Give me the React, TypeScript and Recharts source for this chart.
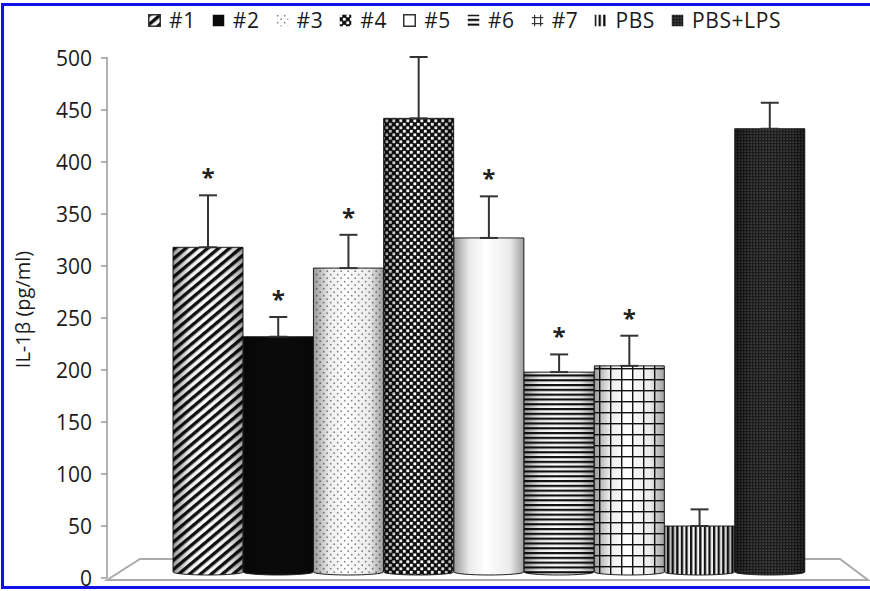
import React from "react";
import { BarChart, Bar, XAxis, YAxis, ErrorBar, Cell } from "recharts";

const groups = ["#1", "#2", "#3", "#4", "#5", "#6", "#7", "PBS", "PBS+LPS"];
const il1b = [318, 232, 298, 442, 327, 198, 204, 50, 432];
const sem = [50, 19, 32, 59, 40, 17, 29, 16, 25];
const marked = [true, true, true, false, true, true, true, false, false];
const yTicks = [0, 50, 100, 150, 200, 250, 300, 350, 400, 450, 500];

const W = 870;
const H = 591;
const MARGIN = { top: 57, right: 8, bottom: 13, left: 0 };
const Y_WIDTH = 107;
const FONT = "'Open Sans', sans-serif";

const data = groups.map((g, i) => ({
  group: g,
  value: il1b[i],
  err: [0, sem[i]],
  star: marked[i],
}));

function Patterns() {
  return (
    <defs>
      <pattern id="pat0" width="7" height="7" patternUnits="userSpaceOnUse" patternTransform="rotate(50)">
        <rect width="7" height="7" fill="#fff" />
        <rect width="3.4" height="7" fill="#111" />
      </pattern>
      <pattern id="pat1" width="4" height="4" patternUnits="userSpaceOnUse">
        <rect width="4" height="4" fill="#0a0a0a" />
      </pattern>
      <pattern id="pat2" width="7" height="7" patternUnits="userSpaceOnUse">
        <rect width="7" height="7" fill="#fff" />
        <circle cx="1.7" cy="1.7" r="0.9" fill="#888" />
        <circle cx="5.2" cy="5.2" r="0.9" fill="#888" />
      </pattern>
      <pattern id="pat3" width="7" height="7" patternUnits="userSpaceOnUse">
        <rect width="7" height="7" fill="#111" />
        <rect x="0.4" y="0.4" width="2.8" height="2.8" fill="#fff" />
        <rect x="3.9" y="3.9" width="2.8" height="2.8" fill="#fff" />
      </pattern>
      <pattern id="pat4" width="4" height="4" patternUnits="userSpaceOnUse">
        <rect width="4" height="4" fill="#fff" />
      </pattern>
      <pattern id="pat5" width="4.8" height="4.8" patternUnits="userSpaceOnUse">
        <rect width="4.8" height="4.8" fill="#fff" />
        <rect width="4.8" height="2.2" fill="#111" />
      </pattern>
      <pattern id="pat6" width="11" height="11" patternUnits="userSpaceOnUse">
        <rect width="11" height="11" fill="#fff" />
        <rect x="5" width="1.4" height="11" fill="#111" />
        <rect y="5" width="11" height="1.4" fill="#111" />
      </pattern>
      <pattern id="pat7" width="4.6" height="4.6" patternUnits="userSpaceOnUse">
        <rect width="4.6" height="4.6" fill="#fff" />
        <rect width="2.3" height="4.6" fill="#111" />
      </pattern>
      <pattern id="pat8" width="3" height="3" patternUnits="userSpaceOnUse">
        <rect width="3" height="3" fill="#1c1c1c" />
        <rect x="0.5" y="0.5" width="1.2" height="1.2" fill="#6a6a6a" />
      </pattern>
      <pattern id="leg6" width="6" height="6" patternUnits="userSpaceOnUse" x="1" y="1">
        <rect width="6" height="6" fill="#fff" />
        <rect x="2" width="1.2" height="6" fill="#333" />
        <rect y="2" width="6" height="1.2" fill="#333" />
      </pattern>
      <linearGradient id="shade" x1="0" y1="0" x2="1" y2="0">
        <stop offset="0%" stopColor="#000" stopOpacity="0.4" />
        <stop offset="22%" stopColor="#000" stopOpacity="0.08" />
        <stop offset="45%" stopColor="#000" stopOpacity="0" />
        <stop offset="80%" stopColor="#000" stopOpacity="0.08" />
        <stop offset="100%" stopColor="#000" stopOpacity="0.38" />
      </linearGradient>
    </defs>
  );
}

function Cylinder(props: any) {
  const { x, y, width, height, index, payload } = props;
  const ry = 3;
  const bottom = y + height - 6;
  const d = `M${x},${y} H${x + width} V${bottom} A${width / 2},${ry} 0 0 1 ${x},${bottom} Z`;
  const perUnit = payload.value ? height / payload.value : 0;
  const starY = y - sem[index] * perUnit - 9;
  return (
    <g>
      <path d={d} fill={`url(#pat${index})`} stroke="#222" strokeWidth={1} />
      <path d={d} fill="url(#shade)" />
      {payload.star && (
        <text x={x + width / 2} y={starY} textAnchor="middle" fontFamily={FONT} fontSize={24} fontWeight={700} fill="#222">
          *
        </text>
      )}
    </g>
  );
}

function YTick(props: any) {
  const { x, y, payload } = props;
  return (
    <text x={x} y={y} textAnchor="end" dominantBaseline="central" fontFamily={FONT} fontSize={21} fill="#1a1a1a">
      {payload.value}
    </text>
  );
}

function Floor() {
  const left = MARGIN.left + Y_WIDTH;
  const right = W - MARGIN.right;
  const front = H - MARGIN.bottom + 2;
  const back = front - 21;
  const pts = `${left},${front} ${left + 33},${back} ${right - 22},${back} ${right + 6},${front}`;
  return (
    <svg width={W} height={H} style={{ position: "absolute", left: 0, top: 0 }}>
      <polygon points={pts} fill="#fff" stroke="#aaa" strokeWidth={2} />
    </svg>
  );
}

function LegendRow() {
  return (
    <div
      style={{
        position: "absolute",
        top: 8,
        left: 148,
        display: "flex",
        alignItems: "center",
        gap: 16,
        fontFamily: FONT,
        fontSize: 21,
        lineHeight: "24px",
        letterSpacing: 0.6,
        color: "#1a1a1a",
      }}
    >
      {groups.map((g, i) => (
        <div key={g} style={{ display: "flex", alignItems: "center", gap: 8 }}>
          <svg width={13} height={13}>
            <rect
              x={0.75}
              y={0.75}
              width={11.5}
              height={11.5}
              fill={i === 6 ? "url(#leg6)" : `url(#pat${i})`}
              stroke={i === 0 || i === 4 ? "#333" : "none"}
              strokeWidth={1.5}
            />
          </svg>
          <span>{g}</span>
        </div>
      ))}
    </div>
  );
}

export default function App() {
  return (
    <div style={{ position: "absolute", left: 0, top: 0, width: W, height: H, background: "#fff" }}>
      <Floor />
      <div style={{ position: "absolute", left: 0, top: 0 }}>
        <BarChart width={W} height={H} data={data} margin={MARGIN} barCategoryGap={0}>
          <Patterns />
          <XAxis dataKey="group" hide padding={{ left: 66, right: 57 }} />
          <YAxis
            width={Y_WIDTH}
            domain={[0, 500]}
            ticks={yTicks}
            interval={0}
            axisLine={{ stroke: "#999", strokeWidth: 1.5 }}
            tickLine={{ stroke: "#999", strokeWidth: 1.5 }}
            tickSize={6}
            tickMargin={9}
            tick={<YTick />}
            label={{
              content: (p: any) => {
                const vb = p.viewBox || {};
                const cx = 22;
                const cy = (vb.y ?? MARGIN.top) + (vb.height ?? 521) / 2 - 8;
                return (
                  <text
                    x={cx}
                    y={cy}
                    transform={`rotate(-90 ${cx} ${cy})`}
                    textAnchor="middle"
                    dominantBaseline="central"
                    fontFamily={FONT}
                    fontSize={20}
                    fill="#1a1a1a"
                  >
                    IL-1β (pg/ml)
                  </text>
                );
              },
            }}
          />
          <Bar dataKey="value" shape={<Cylinder />} isAnimationActive={false}>
            {data.map((d) => (
              <Cell key={d.group} />
            ))}
            <ErrorBar dataKey="err" direction="y" width={9} stroke="#333" strokeWidth={2} isAnimationActive={false} />
          </Bar>
        </BarChart>
      </div>
      <LegendRow />
      <div
        style={{
          position: "absolute",
          left: 1,
          top: 3,
          width: W,
          height: H - 5,
          boxSizing: "border-box",
          borderLeft: "3px solid #1212e8",
          borderTop: "3px solid #1212e8",
          borderBottom: "3px solid #1212e8",
          pointerEvents: "none",
        }}
      />
    </div>
  );
}
